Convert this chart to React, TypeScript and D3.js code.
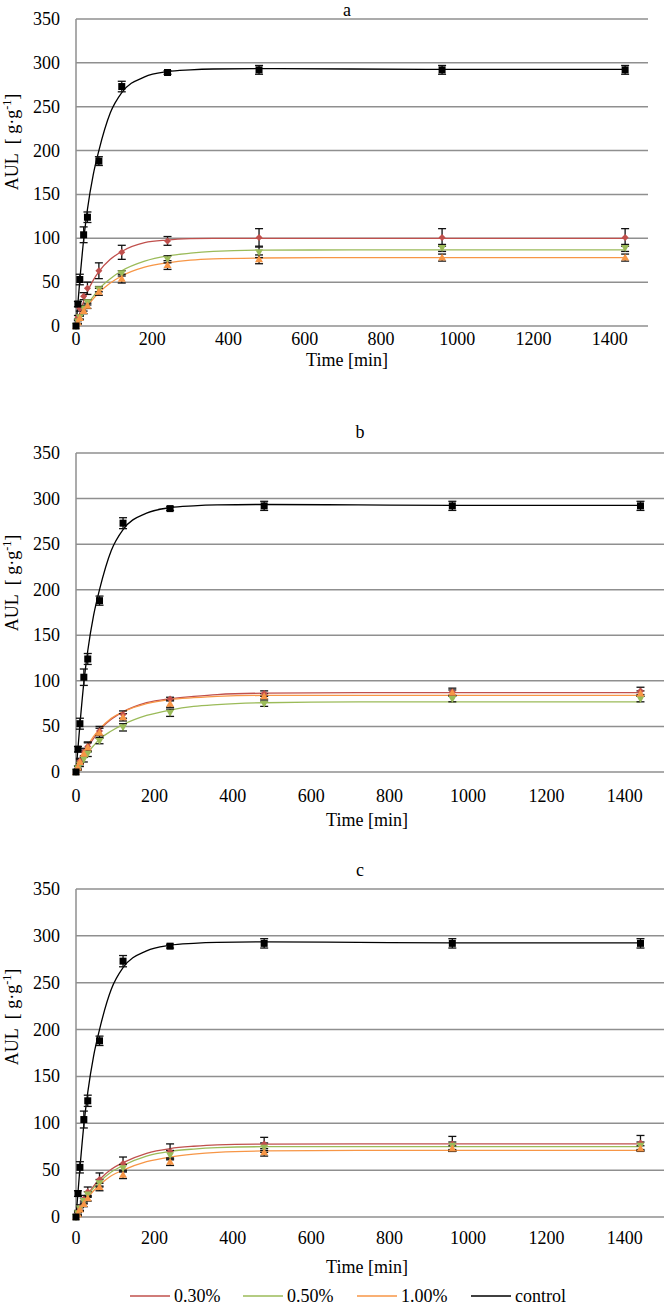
import React from "react";
import * as d3 from "d3";

// ---------- data ----------
const times = [0, 5, 10, 20, 30, 60, 120, 240, 480, 960, 1440];
const fitTimes = [0, 10, 20, 30, 45, 60, 90, 120, 180, 240, 300, 360, 480, 720, 960, 1200, 1440];
const yTicks = [0, 50, 100, 150, 200, 250, 300, 350];
const xTicks = [0, 200, 400, 600, 800, 1000, 1200, 1400];
const seriesNames = ["0.30%", "0.50%", "1.00%", "control"];
const panelTitles = ["a", "b", "c"];

const controlPts = [0, 25, 53, 104, 124, 188, 273, 289, 292, 292, 292];
const controlErr = [0, 3, 6, 9, 6, 5, 6, 2, 5, 5, 5];
const controlFit = [0, 52, 98, 133, 172, 200, 243, 266, 284, 290, 292, 293, 293.5, 293, 292.5, 292.5, 292.5];

// panel a
const redPtsA = [0, 10, 20, 34, 43, 63, 84, 97, 101, 101, 101];
const redErrA = [0, 2, 3, 4, 7, 9, 8, 5, 10, 10, 10];
const greenPtsA = [0, 5, 10, 20, 27, 42, 60, 76, 84, 89, 89];
const greenErrA = [0, 2, 2, 3, 3, 3, 3, 4, 6, 4, 4];
const orangePtsA = [0, 4, 9, 17, 23, 39, 54, 69.5, 76, 78, 78];
const orangeErrA = [0, 2, 2, 3, 3, 4, 5, 5, 5, 4, 4];
const redFitA = [0, 15, 28, 39, 52, 62, 76, 85, 95, 98, 99.5, 100, 100, 100, 100, 100, 100];
const greenFitA = [0, 9, 17.5, 24.5, 33.5, 42, 54, 63, 74, 80, 83, 85, 86.5, 86.7, 86.7, 86.7, 86.7];
const orangeFitA = [0, 8.5, 16, 22.5, 31, 38, 49, 57, 67, 72, 75, 76.5, 77.5, 78, 78, 78, 78];

// panel b
const redPtsB = [0, 5, 12, 22, 28, 45, 63, 80, 86, 88, 89];
const redErrB = [0, 2, 3, 4, 5, 5, 4, 2, 3, 4, 4];
const greenPtsB = [0, 4, 8, 14, 20, 34, 49, 65, 75, 80, 80];
const greenErrB = [0, 2, 2, 3, 3, 3, 4, 4, 3, 3, 3];
const orangePtsB = [0, 5, 11, 20, 27, 43, 60, 75, 83, 87, 86];
const orangeErrB = [0, 2, 3, 4, 5, 5, 4, 4, 3, 3, 3];
const redFitB = [0, 10, 19, 27, 37, 46, 58, 66, 76, 80.5, 83, 85, 86.5, 87, 87, 87, 87];
const greenFitB = [0, 7.5, 14.5, 21, 29, 36, 45, 52, 62, 68, 72, 74, 76, 77, 77, 77, 77];
const orangeFitB = [0, 11, 21, 29, 39, 47, 59, 66, 75, 79.5, 81.5, 83, 84, 84, 84, 84, 84];

// panel c
const redPtsC = [0, 5, 10, 19, 27, 40, 57, 70, 78, 78, 79];
const redErrC = [0, 2, 3, 4, 5, 7, 7, 8, 7, 8, 8];
const greenPtsC = [0, 4, 9, 17, 24, 36, 52, 66, 74, 76, 76];
const greenErrC = [0, 2, 2, 3, 3, 4, 4, 5, 5, 4, 4];
const orangePtsC = [0, 3, 8, 14, 20, 32, 45, 59, 69, 73, 73];
const orangeErrC = [0, 2, 2, 3, 3, 4, 4, 4, 4, 3, 3];
const redFitC = [0, 9, 17, 24, 33, 40, 51, 58, 68, 73, 75.5, 77, 77.8, 78, 78, 78, 78];
const greenFitC = [0, 8.5, 16, 22.5, 31, 37.5, 48, 55, 65, 70, 72.5, 74, 75, 75, 75, 75, 75];
const orangeFitC = [0, 7.5, 14.5, 20.5, 28, 34, 44, 50, 59, 64, 67, 69, 70.5, 71, 71, 71, 71];

// ---------- styles ----------
const COLORS = ["#C0504D", "#9BBB59", "#F79646", "#000000"];
const MARKERS = ["diamond", "triangleDown", "triangle", "square"];
const FONT = "'Liberation Serif', 'Times New Roman', serif";
const GRID = "#8f8f8f";
const FS = 18;

const panelData = [
  {
    pts: [redPtsA, greenPtsA, orangePtsA, controlPts],
    err: [redErrA, greenErrA, orangeErrA, controlErr],
    fit: [redFitA, greenFitA, orangeFitA, controlFit],
  },
  {
    pts: [redPtsB, greenPtsB, orangePtsB, controlPts],
    err: [redErrB, greenErrB, orangeErrB, controlErr],
    fit: [redFitB, greenFitB, orangeFitB, controlFit],
  },
  {
    pts: [redPtsC, greenPtsC, orangePtsC, controlPts],
    err: [redErrC, greenErrC, orangeErrC, controlErr],
    fit: [redFitC, greenFitC, orangeFitC, controlFit],
  },
];

const layouts = [
  { left: 76, right: 648, top: 19, bottom: 326, titleX: 347, titleY: 16, tickY: 345, xLabX: 347, xLabY: 366, yLabY: 142 },
  { left: 76, right: 664, top: 453, bottom: 772, titleX: 360, titleY: 438, tickY: 802, xLabX: 367, xLabY: 826, yLabY: 583 },
  { left: 76, right: 664, top: 889, bottom: 1217, titleX: 360, titleY: 876, tickY: 1244, xLabX: 367, xLabY: 1273, yLabY: 1017 },
];

function Marker({ kind, x, y, color }: { kind: string; x: number; y: number; color: string }) {
  if (kind === "square") return <rect x={x - 3.5} y={y - 3.5} width={7} height={7} fill={color} />;
  if (kind === "diamond")
    return <path d={`M${x},${y - 3.5}L${x + 3.5},${y}L${x},${y + 3.5}L${x - 3.5},${y}Z`} fill={color} />;
  if (kind === "triangle")
    return <path d={`M${x},${y - 4}L${x + 4},${y + 3}L${x - 4},${y + 3}Z`} fill={color} />;
  return <path d={`M${x},${y + 4}L${x + 4},${y - 3}L${x - 4},${y - 3}Z`} fill={color} />;
}

function Panel({ idx }: { idx: number }) {
  const L = layouts[idx];
  const D = panelData[idx];
  const x = d3.scaleLinear().domain([0, 1500]).range([L.left, L.right]);
  const y = d3.scaleLinear().domain([0, 350]).range([L.bottom, L.top]);
  const line = d3
    .line<number>()
    .x((_, i) => x(fitTimes[i]))
    .y((v) => y(v))
    .curve(d3.curveMonotoneX);

  return (
    <g>
      <text x={L.titleX} y={L.titleY} textAnchor="middle" fontFamily={FONT} fontSize={FS}>
        {panelTitles[idx]}
      </text>
      {yTicks.map((t) => (
        <g key={t}>
          <line x1={L.left} x2={L.right} y1={y(t)} y2={y(t)} stroke={GRID} strokeWidth={1.5} />
          <text x={60} y={y(t) + 6} textAnchor="end" fontFamily={FONT} fontSize={FS}>
            {t}
          </text>
        </g>
      ))}
      <line x1={L.left} x2={L.left} y1={L.top} y2={L.bottom} stroke={GRID} strokeWidth={1.5} />
      {xTicks.map((t) => (
        <text key={t} x={x(t)} y={L.tickY} textAnchor="middle" fontFamily={FONT} fontSize={FS}>
          {t}
        </text>
      ))}
      <text x={L.xLabX} y={L.xLabY} textAnchor="middle" fontFamily={FONT} fontSize={FS}>
        Time [min]
      </text>
      <text
        transform={`translate(18,${L.yLabY}) rotate(-90)`}
        textAnchor="middle"
        fontFamily={FONT}
        fontSize={FS}
      >
        AUL{"\u00A0\u00A0"}[ g·g<tspan fontSize={12} dy={-7}>-1</tspan>
        <tspan dy={7}>]</tspan>
      </text>
      {D.fit.map((f, s) => (
        <path key={s} d={line(f) || ""} fill="none" stroke={COLORS[s]} strokeWidth={1.3} />
      ))}
      {D.pts.map((p, s) =>
        p.map((v, i) => {
          const e = D.err[s][i];
          if (!e) return null;
          const cx = x(times[i]);
          return (
            <g key={`e${s}-${i}`} stroke="#111" strokeWidth={1.3}>
              <line x1={cx} x2={cx} y1={y(v - e)} y2={y(v + e)} />
              <line x1={cx - 4} x2={cx + 4} y1={y(v - e)} y2={y(v - e)} />
              <line x1={cx - 4} x2={cx + 4} y1={y(v + e)} y2={y(v + e)} />
            </g>
          );
        })
      )}
      {D.pts.map((p, s) =>
        p.map((v, i) => <Marker key={`m${s}-${i}`} kind={MARKERS[s]} x={x(times[i])} y={y(v)} color={COLORS[s]} />)
      )}
    </g>
  );
}

const legendX = [130, 243, 357, 471];

export default function App() {
  return (
    <svg width={665} height={1306} style={{ position: "absolute", left: 0, top: 0, background: "#fff" }}>
      <rect width={665} height={1306} fill="#fff" />
      {[0, 1, 2].map((i) => (
        <Panel key={i} idx={i} />
      ))}
      {seriesNames.map((n, i) => (
        <g key={n}>
          <line x1={legendX[i]} x2={legendX[i] + 40} y1={1296} y2={1296} stroke={COLORS[i]} strokeWidth={1.3} />
          <text x={legendX[i] + 44} y={1302} fontFamily={FONT} fontSize={FS}>
            {n}
          </text>
        </g>
      ))}
    </svg>
  );
}
